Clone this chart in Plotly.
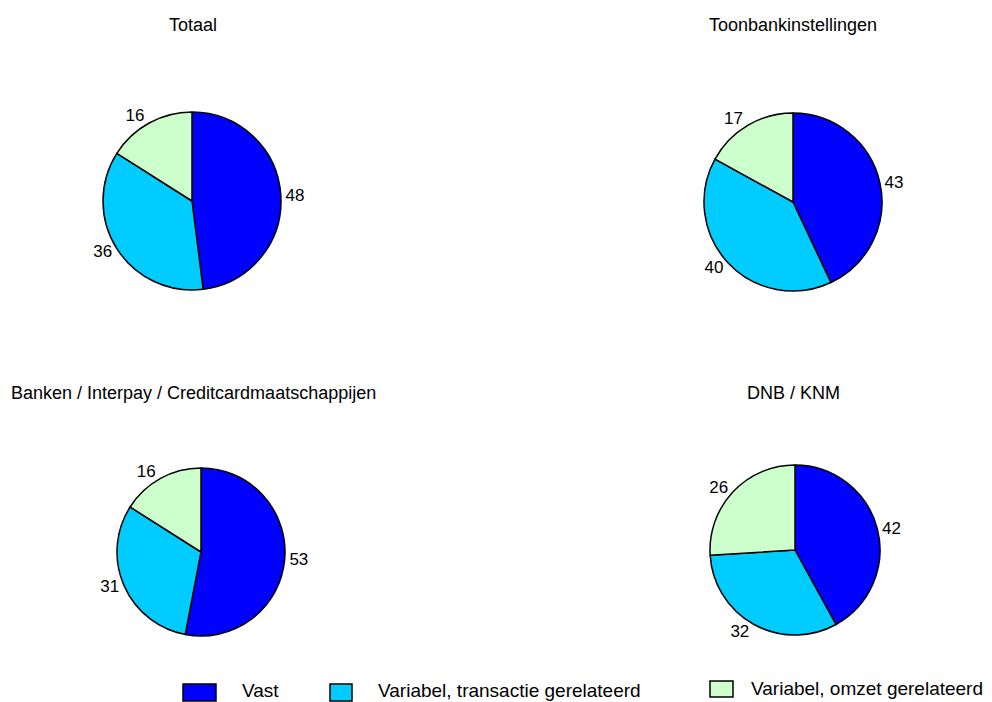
import plotly.graph_objects as go

# Cost structure per group (percent)
categories = ["Vast", "Variabel, transactie gerelateerd", "Variabel, omzet gerelateerd"]
colors = ["#0000FF", "#00CCFF", "#CCFFCC"]

titles = ["Totaal", "Toonbankinstellingen",
          "Banken / Interpay / Creditcardmaatschappijen", "DNB / KNM"]
totaal = [48, 36, 16]
toonbank = [43, 40, 17]
banken = [53, 31, 16]
dnb_knm = [42, 32, 26]
series = [totaal, toonbank, banken, dnb_knm]

W, H = 992, 702
FONT = "Arial, Liberation Sans, sans-serif"

# pie centres and radii in pixels (x from left, y from top)
pie_geom = [(192, 201, 89), (793, 202, 89), (201, 552, 84), (795, 550, 85)]
title_pos = [(193, 25), (793, 25), (193, 393), (793, 393)]

fig = go.Figure()
for vals, (cx, cy, r) in zip(series, pie_geom):
    fig.add_trace(go.Pie(
        labels=categories,
        values=vals,
        sort=False,
        direction="clockwise",
        rotation=0,
        marker=dict(colors=colors, line=dict(color="black", width=1.5)),
        textinfo="value",
        textposition="outside",
        outsidetextfont=dict(family=FONT, size=17, color="black"),
        showlegend=False,
        hoverinfo="label+value",
        domain=dict(x=[(cx - r) / W, (cx + r) / W],
                    y=[(H - cy - r) / H, (H - cy + r) / H]),
    ))

annotations = []
for t, (tx, ty) in zip(titles, title_pos):
    annotations.append(dict(
        text=t, x=tx / W, y=1 - ty / H, xref="paper", yref="paper",
        xanchor="center", yanchor="middle", showarrow=False,
        font=dict(family=FONT, size=18, color="black")))

# legend drawn as boxes with labels along the bottom
legend_boxes = [(183, 684, 216, 701), (330, 684, 352, 701), (710, 681, 733, 697)]
legend_text_x = [240, 376, 749]
legend_text_y = [690, 690, 688]
shapes = []
for cat, col, (x0, y0, x1, y1), lx, ly in zip(categories, colors, legend_boxes,
                                              legend_text_x, legend_text_y):
    shapes.append(dict(type="rect", xref="paper", yref="paper",
                       x0=x0 / W, x1=x1 / W, y0=1 - y1 / H, y1=1 - y0 / H,
                       fillcolor=col, line=dict(color="black", width=1.5)))
    annotations.append(dict(
        text=cat, x=lx / W, y=1 - ly / H, xref="paper", yref="paper",
        xanchor="left", yanchor="middle", showarrow=False,
        font=dict(family=FONT, size=19, color="black")))

fig.update_layout(
    width=W, height=H,
    margin=dict(l=0, r=0, t=0, b=0),
    paper_bgcolor="white", plot_bgcolor="white",
    annotations=annotations, shapes=shapes,
)

fig.write_html("out.html")
